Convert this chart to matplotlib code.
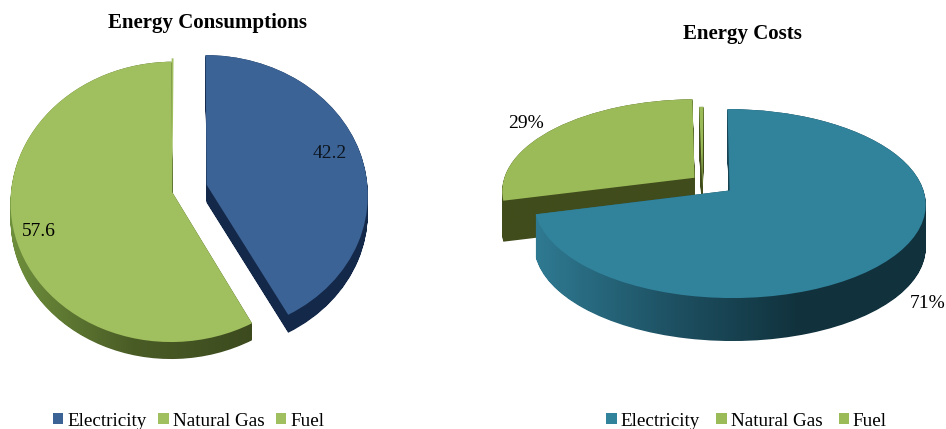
import numpy as np
import matplotlib
matplotlib.use("Agg")
import matplotlib.pyplot as plt
from matplotlib.colors import LinearSegmentedColormap
from matplotlib.path import Path
from matplotlib.transforms import Transform, Affine2D

plt.rcParams['font.family'] = ['Liberation Serif', 'DejaVu Serif']

categories = ['Electricity', 'Natural Gas', 'Fuel']
consumption_values = [42.2, 57.6, 0.2]
consumption_labels = ['42.2', '57.6']
cost_values = [71, 28.6, 0.4]
cost_labels = ['71%', '29%']


class Persp(Transform):
    input_dims = output_dims = 2
    is_separable = False
    has_inverse = False

    def __init__(self, cx, cy, a, b, k):
        super().__init__()
        self.p = (cx, cy, a, b, k)

    def transform_non_affine(self, values):
        cx, cy, a, b, k = self.p
        values = np.asarray(values, float)
        f = 1 / (1 + k * values[:, 1])
        return np.column_stack([cx + b * values[:, 0] * f, cy - a * values[:, 1] * f])


def side(ax, wedge, persp, depth, stops, x0, x1, z):
    base = wedge.get_patch_transform().transform_path(wedge.get_path())
    base = persp.transform_path(base)
    parts = [base.transformed(Affine2D().translate(0, d)) for d in np.arange(0, depth + 0.5, 1.0)]
    comp = Path.make_compound_path(*parts)
    cmap = LinearSegmentedColormap.from_list('s', stops)
    im = ax.imshow(np.linspace(0, 1, 256)[None, :], cmap=cmap, aspect='auto',
                   extent=(x0, x1, 429, 0), zorder=z)
    im.set_clip_path(comp, ax.transData)


def draw(ax, values, explode, persp, tops, zs):
    wedges, _ = ax.pie(values, explode=explode, startangle=90, counterclock=False,
                       colors=tops, wedgeprops={'linewidth': 0})
    for w, z in zip(wedges, zs):
        w.set_transform(persp + ax.transData)
        w.set_zorder(z + 0.5)
    return wedges


fig = plt.figure(figsize=(9.46, 4.29), dpi=100)
fig.patch.set_facecolor('white')
ax1 = fig.add_axes([0, 0, 0.5, 1])
ax2 = fig.add_axes([0.5, 0, 0.5, 1])

# Left chart
p1 = Persp(189.5, 188.5, 139, 161, 0.068)
w1 = draw(ax1, consumption_values, [0.11, 0.11, 0.11], p1,
          ['#3C6395', '#A0BF5E', '#A0BF5E'], [3, 3, 3])
w1[2].set_center((-0.106, 0.0))
side(ax1, w1[0], p1, 18, ['#14294A', '#14294A'], 200, 375, 3)
side(ax1, w1[1], p1, 17, ['#6E8F3C', '#4A5C26', '#3C4A1E'], 10, 255, 3)
ax1.text(330, 153.5, consumption_labels[0], fontsize=14, ha='center', va='center', color='#0c1520', zorder=6)
ax1.text(39, 232, consumption_labels[1], fontsize=14, ha='center', va='center', color='black', zorder=6)
ax1.set_xlim(0, 473)
ax1.set_ylim(429, 0)
ax1.set_aspect('auto')
ax1.set_title('Energy Consumptions', x=207 / 473, y=1 - 23 / 429, va='center',
              fontsize=15, fontweight='bold', pad=0)
ax1.legend(w1, categories, loc='center', bbox_to_anchor=(188.5 / 473, 1 - 421 / 429), ncol=3,
           frameon=False, fontsize=13.8, handlelength=0.55, handleheight=0.55,
           handletextpad=0.2, columnspacing=0.6, borderaxespad=0, borderpad=0)

# Right chart
p2 = Persp(712, 184, 90.9, 192, 0.137)
w2 = draw(ax2, cost_values, [0.115, 0.115, 0.115], p2,
          ['#31839C', '#9BBB59', '#9BBB59'], [5, 3, 3])
w2[2].set_center((-0.05, -0.04))
side(ax2, w2[0], p2, 43, ['#2F7A92', '#1E5264', '#11323D', '#11323D'], 535, 930, 5)
side(ax2, w2[1], p2, 41, ['#414C1C', '#414C1C'], 495, 700, 3)
side(ax2, w2[2], p2, 41, ['#414C1C', '#414C1C'], 695, 705, 3)
ax2.text(525.5, 123, cost_labels[1], fontsize=14, ha='center', va='center', color='black', zorder=7)
ax2.text(928, 303.5, cost_labels[0], fontsize=14, ha='center', va='center', color='black', zorder=7)
ax2.set_xlim(473, 946)
ax2.set_ylim(429, 0)
ax2.set_aspect('auto')
ax2.set_title('Energy Costs', x=(742 - 473) / 473, y=1 - 34 / 429, va='center',
              fontsize=15, fontweight='bold', pad=0)
ax2.legend(w2, categories, loc='center', bbox_to_anchor=((746.5 - 473) / 473, 1 - 421 / 429), ncol=3,
           frameon=False, fontsize=13.8, handlelength=0.55, handleheight=0.55,
           handletextpad=0.2, columnspacing=0.85, borderaxespad=0, borderpad=0)

fig.savefig('out.png', dpi=100)
